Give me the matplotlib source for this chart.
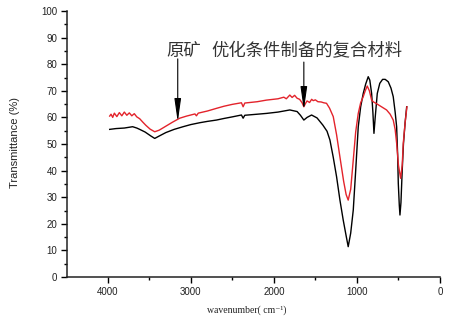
import matplotlib
matplotlib.use('Agg')
import matplotlib.pyplot as plt

# FT-IR spectra
wn_raw = [3976, 3900, 3800, 3700, 3650, 3615, 3550, 3480, 3434, 3380, 3300, 3200,
          3093, 3000, 2892, 2800, 2691, 2600, 2500, 2390, 2370, 2350, 2200, 2089,
          1950, 1808, 1720, 1680, 1639, 1600, 1546, 1480, 1410, 1360, 1325, 1285,
          1245, 1205, 1165, 1130, 1105, 1075, 1044, 1015, 984, 955, 924, 895, 864,
          845, 823, 808, 795, 780, 755, 725, 691, 660, 623, 590, 563, 540, 522, 510,
          502, 490, 482, 470, 455, 440, 420, 401]
t_raw = [55.5, 55.8, 56.0, 56.5, 56.0, 55.5, 54.5, 53.0, 52.1, 53.0, 54.3, 55.5,
         56.5, 57.3, 58.0, 58.5, 59.0, 59.6, 60.2, 60.9, 59.7, 60.8, 61.2, 61.5,
         62.0, 62.8, 62.2, 60.8, 59.0, 60.0, 60.9, 59.8, 57.1, 54.8, 51.5, 45.0,
         37.7, 29.0, 21.4, 15.5, 11.4, 16.5, 25.2, 40.0, 56.5, 64.0, 69.0, 72.5, 75.3,
         74.0, 69.0, 62.0, 54.0, 60.0, 69.0, 72.8, 74.3, 74.3, 73.4, 71.0, 67.8, 62.0, 56.5, 46.0,
         35.2, 27.0, 23.3, 28.0, 40.0, 50.0, 58.0, 64.0]

wn_comp = [3976, 3960, 3940, 3920, 3890, 3860, 3830, 3800, 3770, 3740, 3710, 3680,
           3650, 3615, 3580, 3540, 3490, 3434, 3380, 3300, 3220, 3133, 3050, 2950,
           2932, 2910, 2800, 2691, 2600, 2500, 2390, 2370, 2350, 2200, 2089, 1950,
           1880, 1850, 1808, 1780, 1750, 1720, 1690, 1660, 1639, 1620, 1600, 1570,
           1545, 1526, 1500, 1470, 1430, 1400, 1366, 1330, 1285, 1245, 1205, 1160,
           1130, 1105, 1075, 1044, 1015, 984, 955, 924, 900, 876, 850, 823, 800, 771,
           720, 643, 600, 563, 540, 522, 500, 474, 455, 442, 420, 398]
t_comp = [60.5, 61.2, 60.0, 61.6, 60.3, 61.8, 60.6, 62.0, 60.8, 61.7, 60.6, 61.4,
          60.2, 59.5, 58.3, 57.0, 55.6, 54.6, 55.2, 56.7, 58.2, 59.7, 60.5, 61.3,
          60.6, 61.6, 62.4, 63.4, 64.2, 64.9, 65.5, 64.0, 65.4, 65.9, 66.5, 67.0,
          67.6, 67.0, 68.4, 67.5, 68.3, 67.2, 66.8, 65.5, 64.0, 65.2, 66.2, 65.6,
          66.8, 66.3, 66.6, 65.9, 65.8, 65.5, 65.3, 63.5, 60.3, 53.5, 45.2, 36.0,
          31.0, 28.9, 33.0, 44.0, 54.5, 61.5, 65.5, 67.8, 70.0, 71.8, 70.0, 66.5, 65.8, 65.3,
          64.3, 62.8, 61.2, 59.0, 55.5, 50.3, 42.0, 37.1, 42.0, 50.3, 58.0, 64.0]

label_raw = '原矿'
label_comp = '优化条件制备的复合材料'
x_major = [4000, 3000, 2000, 1000, 0]
x_minor = [3500, 2500, 1500, 500]

fig = plt.figure(figsize=(4.5, 3.21), dpi=100)
ax = fig.add_axes([67 / 450, 1 - 277 / 321, (440 - 67) / 450, (277 - 11) / 321])

ax.plot(wn_raw, t_raw, color='black', lw=1.0)
ax.plot(wn_comp, t_comp, color='#e3232b', lw=1.0)

ax.set_xlim(4490, 0)
ax.set_ylim(0, 100)
ax.set_xticks(x_major)
ax.set_xticks(x_minor, minor=True)
ax.set_yticks(range(0, 101, 10))
ax.set_yticks(range(5, 100, 10), minor=True)
for lbl in ax.get_xticklabels() + ax.get_yticklabels():
    lbl.set_fontfamily('Liberation Sans')
    lbl.set_fontsize(7)
    lbl.set_color('#222222')
ax.tick_params(which='major', direction='out', length=4, width=1, pad=3)
ax.tick_params(which='minor', direction='out', length=2.5, width=1)
for side in ['top', 'right']:
    ax.spines[side].set_visible(False)
for side in ['left', 'bottom']:
    ax.spines[side].set_linewidth(1.1)
    ax.spines[side].set_color('#222222')

fig.text(15 / 450, 1 - 142 / 321, 'Transmittance (%)', rotation=90,
         ha='center', va='center', fontsize=8, family='Liberation Sans', color='#222222')
fig.text(247 / 450, 1 - 310 / 321, 'wavenumber( cm⁻¹)', ha='center', va='center',
         fontsize=7, family=['Liberation Serif', 'DejaVu Serif'], color='#222222')

cjk = ['Noto Sans CJK SC', 'DejaVu Sans']
ax.text(3300, 85.0, label_raw, family=cjk, fontsize=12.5, ha='left', va='center', color='#333333')
ax.text(2750, 85.0, label_comp, family=cjk, fontsize=12.5, ha='left', va='center', color='#333333')

arrow = dict(arrowstyle='-|>,head_length=1.4,head_width=0.2', color='black', lw=0.8,
             shrinkA=0, shrinkB=0)
ax.annotate('', xy=(3157, 58.3), xytext=(3157, 82.0), arrowprops=arrow)
ax.annotate('', xy=(1639, 62.8), xytext=(1639, 80.8), arrowprops=arrow)

fig.savefig('out.png', dpi=100)
